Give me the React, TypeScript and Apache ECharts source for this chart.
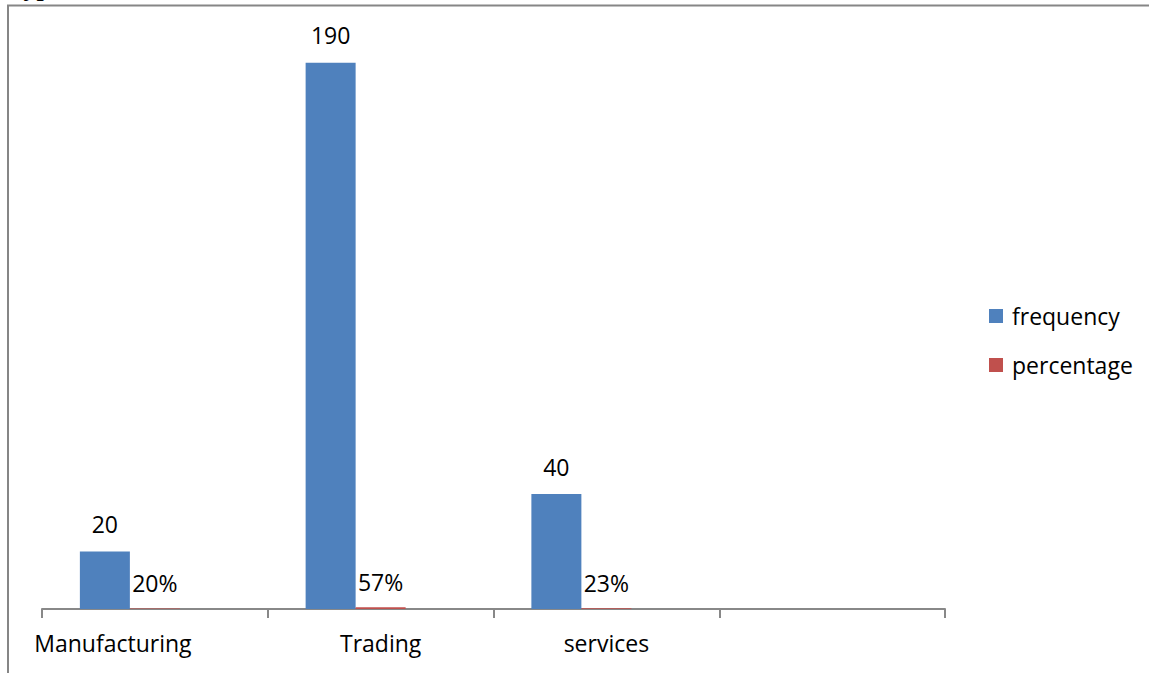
import React, { useEffect, useRef } from "react";
import * as echarts from "echarts";

const categories = ["Manufacturing", "Trading", "services", ""];
const frequency = [20, 190, 40, null];
const percentage = [0.2, 0.57, 0.23, null];
const emptySeries = [null, null, null, null];
const seriesNames = ["frequency", "percentage"];
const titleText = "Type";

const FONT = "'Open Sans', sans-serif";
const FS = 23;

export default function App() {
  const ref = useRef<HTMLDivElement>(null);
  useEffect(() => {
    if (!ref.current) return;
    const chart = echarts.init(ref.current, null, { renderer: "svg" });
    chart.setOption({
      animation: false,
      backgroundColor: "#ffffff",
      grid: { left: 42, right: 204, top: 34, bottom: 64 },
      legend: {
        orient: "vertical",
        left: 989,
        top: 300,
        padding: 0,
        itemWidth: 14,
        itemHeight: 14,
        itemGap: 17,
        icon: "rect",
        data: seriesNames,
        textStyle: { fontFamily: FONT, fontSize: FS, color: "#000", padding: [0, 0, 0, 4], lineHeight: 32 },
      },
      xAxis: {
        type: "category",
        data: categories,
        axisLine: { lineStyle: { color: "#888888", width: 2 } },
        axisTick: { show: true, length: 9, lineStyle: { color: "#888888", width: 2 } },
        axisLabel: {
          margin: 22,
          interval: 0,
          fontFamily: FONT,
          fontSize: FS,
          color: "#000",
          formatter: (v: string, i: number) => (i === 0 ? "{s|" + v + "}" : v),
          rich: { s: { fontFamily: FONT, fontSize: FS, color: "#000", padding: [0, 84, 0, 0] } },
        },
      },
      yAxis: {
        type: "value",
        min: 0,
        max: 200,
        show: false,
        splitLine: { show: false },
      },
      series: [
        {
          name: seriesNames[0],
          type: "bar",
          data: frequency,
          barWidth: 50,
          barGap: "0%",
          itemStyle: { color: "#4F81BD" },
          label: {
            show: true,
            position: "top",
            distance: 16,
            fontFamily: FONT,
            fontSize: FS,
            color: "#000",
          },
        },
        {
          name: seriesNames[1],
          type: "bar",
          data: percentage,
          barWidth: 50,
          barGap: "0%",
          itemStyle: { color: "#C0504D" },
          label: {
            show: true,
            position: "top",
            distance: 14,
            fontFamily: FONT,
            fontSize: FS,
            color: "#000",
            formatter: (p: any) => Math.round(p.value * 100) + "%",
          },
        },
        {
          name: "hidden",
          type: "bar",
          data: emptySeries,
          barWidth: 50,
          barGap: "0%",
          itemStyle: { color: "#9BBB59" },
        },
      ],
      graphic: [
        {
          type: "text",
          left: 8,
          top: -26,
          z: 1,
          style: {
            text: titleText,
            font: "bold 26px 'Liberation Serif', serif",
            fill: "#000",
          },
        },
        {
          type: "line",
          z: 10,
          shape: { x1: 7, y1: 5.5, x2: 1149, y2: 5.5 },
          style: { stroke: "#868686", lineWidth: 2 },
        },
        {
          type: "line",
          z: 10,
          shape: { x1: 8, y1: 5, x2: 8, y2: 673 },
          style: { stroke: "#868686", lineWidth: 2 },
        },
      ],
    });
    return () => chart.dispose();
  }, []);
  return (
    <div
      ref={ref}
      style={{ position: "fixed", left: 0, top: 0, width: 1149, height: 673, background: "#fff" }}
    />
  );
}
